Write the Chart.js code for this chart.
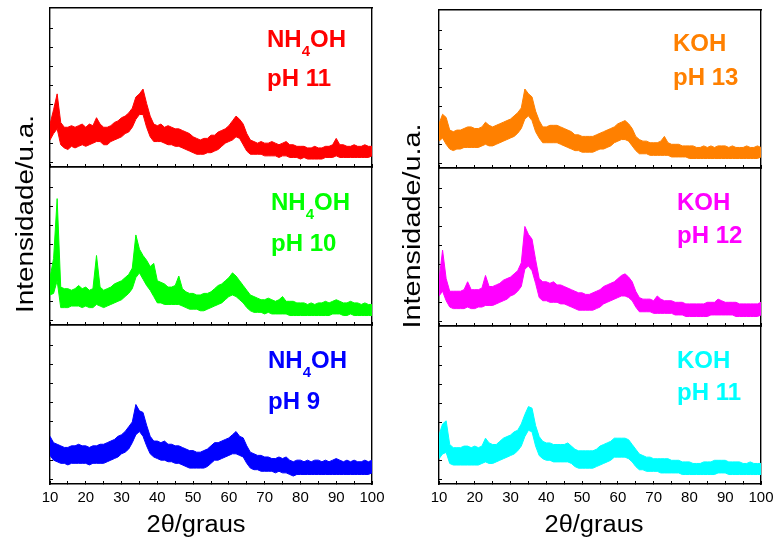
<!DOCTYPE html>
<html><head><meta charset="utf-8">
<script src="https://cdn.jsdelivr.net/npm/chart.js@4.4.1/dist/chart.umd.min.js"></script>
<style>
html,body{margin:0;padding:0;background:#fff;}
#wrap{position:relative;width:775px;height:541px;overflow:hidden;background:#fff;}
#wrap canvas{position:absolute;left:0;top:0;}
</style></head><body><div id="wrap">
<canvas id="c0" width="775" height="541"></canvas>
<canvas id="c1" width="775" height="541"></canvas>
<canvas id="c2" width="775" height="541"></canvas>
<canvas id="c3" width="775" height="541"></canvas>
<canvas id="c4" width="775" height="541"></canvas>
<canvas id="c5" width="775" height="541"></canvas>
</div>
<script>
// ---- data ----
const twoTheta = [10,11,12,13,14,15,16,17,18,19,20,21,22,23,24,25,26,27,28,29,30,31,32,33,34,35,36,37,38,39,40,41,42,43,44,45,46,47,48,49,50,51,52,53,54,55,56,57,58,59,60,61,62,63,64,65,66,67,68,69,70,71,72,73,74,75,76,77,78,79,80,81,82,83,84,85,86,87,88,89,90,91,92,93,94,95,96,97,98,99,100];
const xTickLabels = ['10','20','30','40','50','60','70','80','90','100'];
const yTickValues = [3,15,27,39,51,63,75,87];

const nh11Upper = [27,36,46,28,25,25,26,25,26,27, 25,27,26,31,27,25,25,26,28,29, 31,32,34,37,44,46,49,40,32,27, 26,27,25,26,25,24,24,23,22,21, 19,18,17,18,18,20,20,22,23,24, 26,29,32,30,27,21,17,16,15,16, 15,15,16,15,14,15,16,14,14,13, 13,13,12,12,13,12,12,13,13,14, 18,14,14,13,13,14,13,13,14,13, 13];
const nh11Lower = [17,21,24,14,12,11,13,12,13,14, 13,14,15,16,16,14,14,16,17,18, 19,21,22,25,30,33,33,25,19,16, 16,16,15,14,14,13,13,12,11,10, 9,8,8,8,9,9,10,11,13,15, 16,17,19,18,14,10,8,8,8,8, 7,7,7,7,6,7,7,6,6,6, 5,6,5,5,5,5,5,6,6,6, 7,6,6,6,6,6,6,6,6,6, 7];

const nh10Upper = [30,42,80,24,23,23,22,23,25,23, 24,22,23,44,24,22,23,24,26,27, 28,30,32,36,57,48,44,41,37,39, 28,27,26,24,24,25,31,23,21,20, 20,19,19,20,20,21,23,25,26,28, 30,33,31,28,25,22,19,18,17,16, 16,17,16,15,16,18,15,15,15,14, 14,14,13,14,13,14,14,15,14,15, 16,15,14,14,15,14,14,13,14,13, 13];
const nh10Lower = [19,20,28,11,11,11,12,12,12,11, 12,11,11,13,12,11,12,13,14,15, 16,18,20,23,30,33,29,25,22,18, 14,14,13,13,13,13,13,12,11,10, 10,10,9,9,10,11,12,13,14,16, 18,19,18,16,14,11,9,8,8,8, 7,8,7,7,7,7,7,6,6,6, 6,6,6,6,6,6,6,6,6,7, 7,7,6,6,7,6,6,6,6,6, 6];

const nh9Upper = [30,26,25,24,23,23,24,24,25,24, 24,23,24,24,25,25,26,27,28,30, 31,33,36,39,50,46,45,37,30,27, 27,26,27,25,25,24,24,23,22,21, 21,20,20,21,22,24,26,26,27,28, 29,31,33,30,29,24,20,19,18,18, 17,17,16,16,17,16,17,15,14,15, 15,14,15,14,15,15,14,15,14,15, 16,15,14,15,14,15,14,14,15,14, 15];
const nh9Lower = [18,15,14,13,13,12,13,13,13,13, 13,12,13,13,13,13,14,15,16,17, 19,20,22,26,31,33,30,24,19,17, 16,15,15,14,14,13,13,12,11,10, 10,10,10,10,11,13,15,15,16,17, 18,19,19,18,17,13,10,9,9,8, 8,8,8,7,8,7,7,6,5,6, 6,6,6,6,6,6,6,6,6,6, 6,6,6,6,6,6,6,6,6,6, 7];

const koh13Upper = [28,34,32,24,23,24,24,25,26,26, 25,25,26,29,27,26,27,28,29,30, 31,33,35,38,50,47,45,36,30,26, 26,27,27,27,26,25,24,23,21,21, 20,20,20,20,21,22,23,24,25,26, 28,29,30,28,25,20,18,17,17,16, 16,16,17,20,16,15,15,15,14,14, 14,14,13,13,14,13,14,13,14,14, 14,13,14,13,13,13,14,13,13,14, 13];
const koh13Lower = [17,19,15,12,11,12,12,13,13,13, 13,13,14,15,14,14,15,16,17,18, 19,20,22,25,31,33,30,23,19,16, 16,16,16,16,15,14,13,12,11,11, 10,10,10,10,11,12,12,13,14,16, 17,18,18,17,14,11,9,9,9,8, 8,8,8,8,8,7,7,7,7,7, 6,6,6,6,6,6,6,6,6,6, 6,6,6,6,6,6,6,6,6,6, 7];

const koh12Upper = [29,48,30,22,22,22,22,23,28,23, 23,23,24,32,25,25,26,27,29,30, 31,33,35,40,63,58,55,42,30,28, 28,27,28,26,26,25,24,23,22,21, 21,20,20,21,22,23,25,26,27,28, 30,32,33,31,28,22,18,17,17,17, 16,19,17,16,16,16,15,15,15,14, 14,14,14,14,14,15,15,15,17,16, 15,15,15,15,14,14,14,14,14,14, 15];
const koh12Lower = [19,22,16,12,11,11,11,11,12,11, 11,12,12,13,13,13,14,15,16,17, 19,20,22,25,36,38,35,27,18,16, 16,15,15,15,14,14,13,12,11,10, 10,10,10,10,11,12,14,15,16,17, 18,19,19,18,16,12,9,9,9,9, 8,8,8,8,8,8,7,7,7,6, 6,6,6,6,6,6,7,7,7,7, 7,7,7,6,6,6,6,6,6,6, 7];

const koh11Upper = [31,38,40,25,23,23,23,24,24,23, 24,23,24,29,26,25,25,27,29,30, 31,33,34,38,44,49,48,37,30,27, 26,26,25,25,25,25,26,24,22,21, 21,21,21,21,22,24,25,26,27,29, 29,29,29,28,25,22,19,18,17,17, 16,16,16,16,16,15,15,15,14,14, 14,13,13,13,14,14,14,15,15,15, 15,14,14,14,14,13,13,14,13,13, 13];
const koh11Lower = [16,19,20,13,12,12,12,12,12,12, 12,12,13,14,13,13,14,15,16,17, 18,19,21,24,30,34,33,24,18,16, 15,15,14,14,14,14,14,13,11,10, 10,10,10,10,11,12,13,14,15,17, 17,17,17,16,14,11,9,9,8,8, 8,8,7,7,7,7,7,7,6,6, 6,6,6,6,6,6,6,6,7,7, 7,6,6,6,6,6,6,6,6,6, 6];

// ---- layout ----
const W = 775, H = 541;
const FONT = '"Liberation Sans", Arial, Helvetica, sans-serif';
Chart.defaults.font.family = FONT;

function labelPlugin(color, lines) {
  return {
    id: 'lbl',
    afterDraw(chart) {
      const c = chart.ctx;
      c.save();
      c.fillStyle = color;
      c.textBaseline = 'alphabetic';
      c.textAlign = 'left';
      lines.forEach(L => {
        let x = L.x;
        L.parts.forEach(p => {
          c.font = (p.sub ? 'bold 15px ' : 'bold 24px ') + FONT;
          c.fillText(p.t, x, L.y + (p.sub ? 9 : 0));
          x += c.measureText(p.t).width;
        });
      });
      c.restore();
    }
  };
}

function titlePlugin(yTitle, xTitle) {
  return {
    id: 'ttl',
    afterDraw(chart) {
      const c = chart.ctx;
      c.save();
      c.fillStyle = '#000';
      c.textAlign = 'center';
      c.textBaseline = 'alphabetic';
      c.font = '23px ' + FONT;
      let w = c.measureText(yTitle.text).width;
      c.translate(yTitle.x, yTitle.y);
      c.rotate(-Math.PI / 2);
      c.scale(yTitle.len / w, 1);
      c.fillText(yTitle.text, 0, 0);
      c.setTransform(1, 0, 0, 1, 0, 0);
      c.font = '23px ' + FONT;
      w = c.measureText(xTitle.text).width;
      c.translate(xTitle.x, xTitle.y);
      c.scale(xTitle.len / w, 1);
      c.fillText(xTitle.text, 0, 0);
      c.restore();
    }
  };
}

function makeChart(id, rect, upper, lower, color, bottom, extraPlugins) {
  const pts = arr => twoTheta.map((x, i) => ({ x: x, y: arr[i] }));
  const borderOpt = { display: true, color: '#000', width: 1.4 };
  return new Chart(document.getElementById(id), {
    type: 'line',
    data: {
      datasets: [
        { data: pts(lower), borderColor: color, borderWidth: 1, pointRadius: 0, fill: false, tension: 0 },
        { data: pts(upper), borderColor: color, borderWidth: 1, pointRadius: 0, fill: '-1', backgroundColor: color, tension: 0 }
      ]
    },
    options: {
      responsive: false, animation: false, events: [],
      layout: { padding: { left: rect.l, top: rect.t, right: W - rect.r, bottom: bottom ? 0 : H - rect.b } },
      plugins: { legend: { display: false }, tooltip: { enabled: false } },
      scales: {
        x: {
          type: 'linear', position: 'bottom', min: 10, max: 100,
          afterFit: s => { s.height = bottom ? H - rect.b : 0; s.paddingLeft = 0; s.paddingRight = 0; },
          ticks: {
            display: bottom, stepSize: 5, autoSkip: false, maxRotation: 0, padding: 8,
            color: '#000', font: { size: 15 },
            callback: v => xTickLabels.includes(String(v)) ? String(v) : ''
          },
          grid: { drawOnChartArea: false, drawTicks: true, tickLength: -3, tickColor: '#000', tickWidth: 1 },
          border: borderOpt
        },
        xTop: {
          type: 'linear', position: 'top', min: 10, max: 100,
          afterFit: s => { s.height = 0; s.paddingLeft = 0; s.paddingRight = 0; },
          ticks: { display: false }, grid: { display: false }, border: borderOpt
        },
        y: {
          type: 'linear', position: 'left', min: 0, max: 100,
          afterFit: s => { s.width = 0; s.paddingTop = 0; s.paddingBottom = 0; },
          afterBuildTicks: s => { s.ticks = yTickValues.map(v => ({ value: v })); },
          ticks: { display: false },
          grid: { drawOnChartArea: false, drawTicks: true, tickLength: -3, tickColor: '#000', tickWidth: 1 },
          border: borderOpt
        },
        yRight: {
          type: 'linear', position: 'right', min: 0, max: 100,
          afterFit: s => { s.width = 0; s.paddingTop = 0; s.paddingBottom = 0; },
          ticks: { display: false }, grid: { display: false }, border: borderOpt
        }
      }
    },
    plugins: extraPlugins
  });
}

const NH = () => [{ t: 'NH' }, { t: '4', sub: true }, { t: 'OH' }];

makeChart('c0', { l: 50, r: 372, t: 8, b: 167 }, nh11Upper, nh11Lower, '#ff0000', false,
  [labelPlugin('#ff0000', [{ x: 267, y: 47, parts: NH() }, { x: 267, y: 86, parts: [{ t: 'pH 11' }] }])]);
makeChart('c1', { l: 50, r: 372, t: 167, b: 325 }, nh10Upper, nh10Lower, '#00ff00', false,
  [labelPlugin('#00ff00', [{ x: 271, y: 210, parts: NH() }, { x: 271, y: 251, parts: [{ t: 'pH 10' }] }])]);
makeChart('c2', { l: 50, r: 372, t: 325, b: 484 }, nh9Upper, nh9Lower, '#0000ff', true,
  [labelPlugin('#0000ff', [{ x: 268, y: 368, parts: NH() }, { x: 268, y: 409, parts: [{ t: 'pH 9' }] }]),
   titlePlugin({ text: 'Intensidade/u.a.', x: 33, y: 214, len: 198 }, { text: '2\u03b8/graus', x: 196, y: 532, len: 99 })]);

makeChart('c3', { l: 439, r: 761, t: 10, b: 168 }, koh13Upper, koh13Lower, '#ff8000', false,
  [labelPlugin('#ff8000', [{ x: 673, y: 51, parts: [{ t: 'KOH' }] }, { x: 673, y: 85, parts: [{ t: 'pH 13' }] }])]);
makeChart('c4', { l: 439, r: 761, t: 168, b: 326 }, koh12Upper, koh12Lower, '#ff00ff', false,
  [labelPlugin('#ff00ff', [{ x: 677, y: 210, parts: [{ t: 'KOH' }] }, { x: 677, y: 243, parts: [{ t: 'pH 12' }] }])]);
makeChart('c5', { l: 439, r: 761, t: 326, b: 484 }, koh11Upper, koh11Lower, '#00ffff', true,
  [labelPlugin('#00ffff', [{ x: 677, y: 368, parts: [{ t: 'KOH' }] }, { x: 677, y: 400, parts: [{ t: 'pH 11' }] }]),
   titlePlugin({ text: 'Intensidade/u.a.', x: 420, y: 226, len: 205 }, { text: '2\u03b8/graus', x: 594, y: 532, len: 99 })]);
</script>
</body></html>
